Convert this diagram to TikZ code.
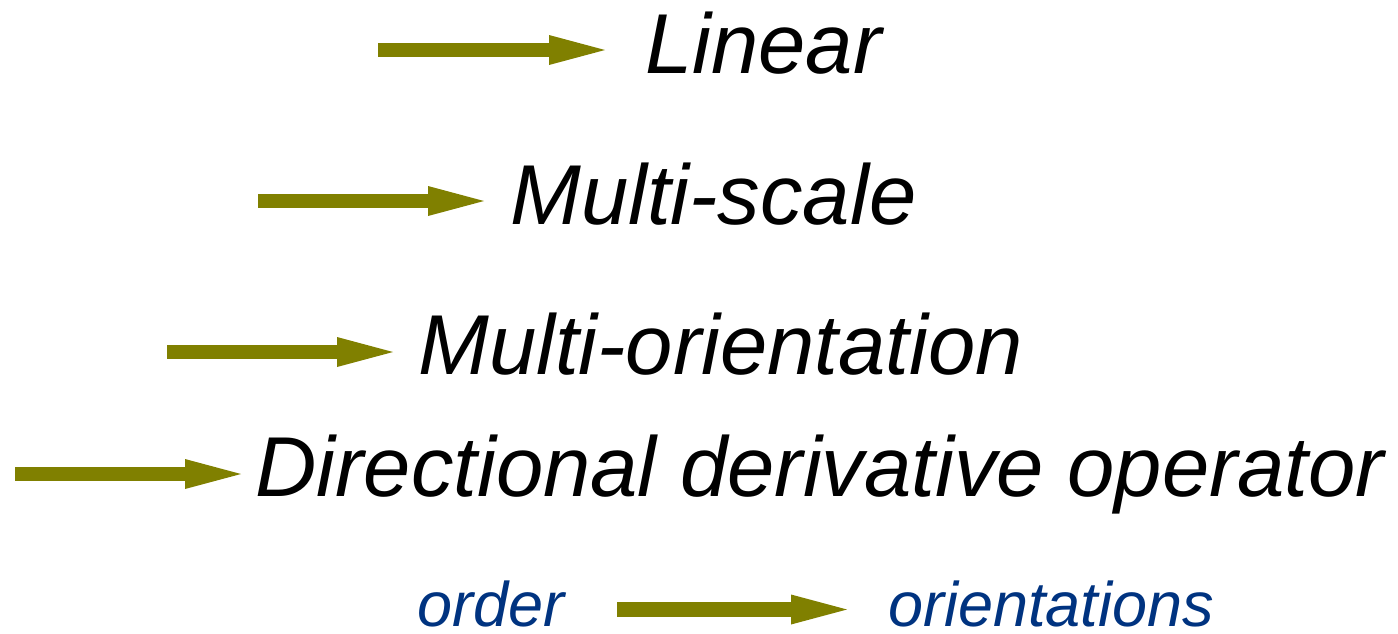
\documentclass[tikz,border=0pt]{standalone}
\usepackage{fontspec}
\setmainfont{Liberation Sans}
\usetikzlibrary{arrows.meta}
\definecolor{olivearrow}{RGB}{128,128,0}
\definecolor{termblue}{RGB}{0,51,128}

\begin{document}
\begin{tikzpicture}[
    x=1pt, y=-1pt,
    term/.style={anchor=base west, inner sep=0pt,
        font=\fontsize{85}{100}\selectfont\itshape},
    small term/.style={anchor=base west, inner sep=0pt, text=termblue,
        font=\fontsize{63}{75}\selectfont\itshape},
    fat arrow/.style={olivearrow, line width=14.7pt,
        -{Triangle[length=56pt, width=30pt, line width=0pt]}}
    ]
    \useasboundingbox (0,0) rectangle (1398,633);
    % terms
    \node[term] (lin) at (645,73) {Linear};
    \node[term] (mscale) at (510,224) {Multi-scale};
    \node[term] (morient) at (418,374) {Multi-orientation};
    \node[term] (dirop) at (255,496) {Directional derivative operator};
    \node[small term] (order) at (417,626) {order};
    \node[small term] (orients) at (888,626) {orientations};
    % arrow tails
    \coordinate (tail1) at (378,50);
    \coordinate (tail2) at (258,201);
    \coordinate (tail3) at (167,352);
    \coordinate (tail4) at (15,474);
    % arrows
    \draw[fat arrow, shorten >=40pt] (tail1) -- (tail1 -| lin.west);
    \draw[fat arrow, shorten >=26pt] (tail2) -- (tail2 -| mscale.west);
    \draw[fat arrow, shorten >=25pt] (tail3) -- (tail3 -| morient.west);
    \draw[fat arrow, shorten >=14pt] (tail4) -- (tail4 -| dirop.west);
    \draw[fat arrow, shorten <=53pt, shorten >=41pt]
        ([yshift=-6pt]order.east) -- ([yshift=-6pt]order.east -| orients.west);
\end{tikzpicture}
\end{document}
